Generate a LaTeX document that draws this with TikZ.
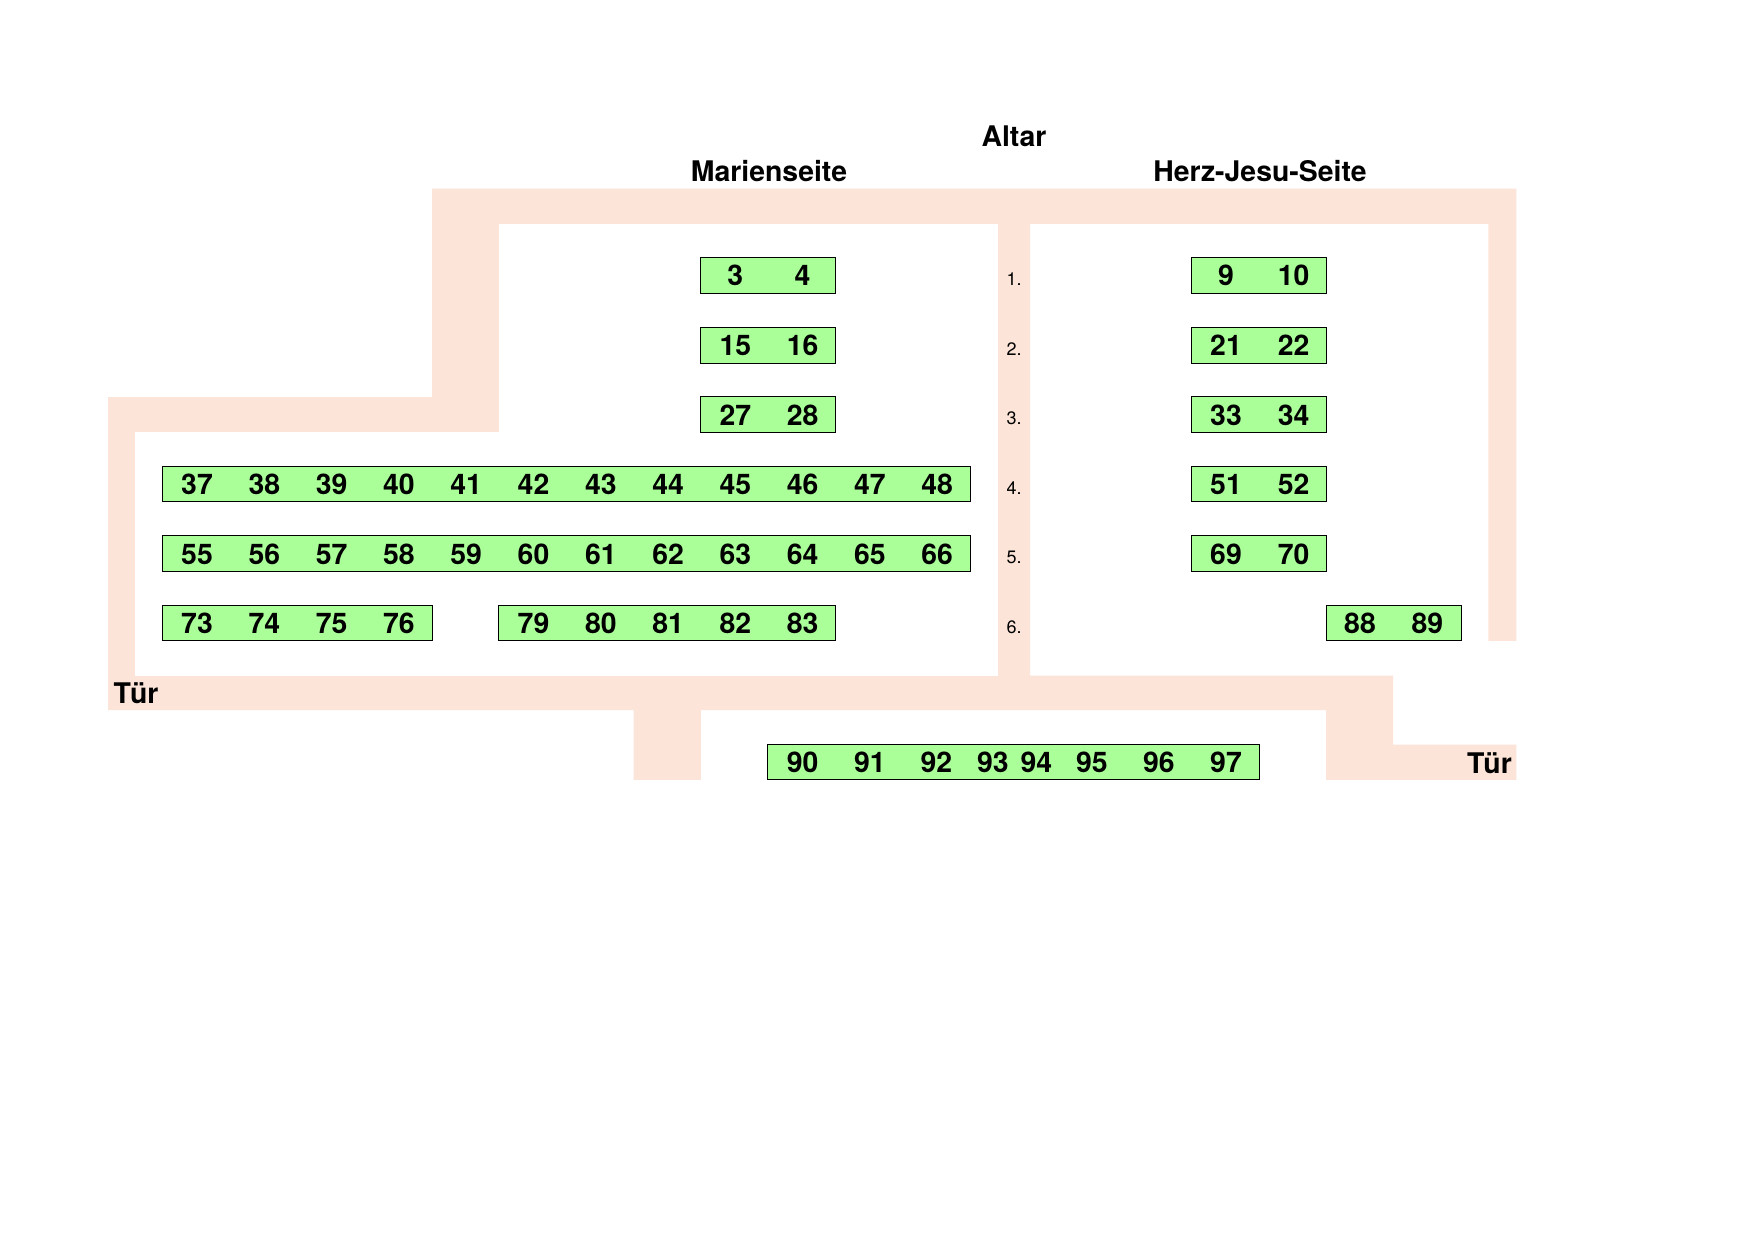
\documentclass[tikz,border=0pt]{standalone}
\usepackage{fontspec}
\setmainfont{TeX Gyre Heros}
\definecolor{wallpink}{RGB}{252,228,216}
\definecolor{pewgreen}{RGB}{170,255,153}
\tikzset{
  x=1pt,y=-1pt,
  wall/.style={fill=wallpink,draw=none},
  pew/.style={draw=black,fill=pewgreen,line width=1pt},
  seat/.style={anchor=base,inner sep=0pt,font=\fontsize{28.4}{28.4}\selectfont\bfseries},
  title/.style={anchor=base,inner sep=0pt,font=\fontsize{28.4}{28.4}\selectfont\bfseries},
  rowno/.style={anchor=base,inner sep=0pt,font=\fontsize{18}{18}\selectfont},
}
\begin{document}
\begin{tikzpicture}
\useasboundingbox (0,0) rectangle (1754,1240);
\fill[white] (0,0) rectangle (1754,1240);
\begin{scope}[shift={(0,0.5)}]
% walls
\path[wall] (432,188) -- (1516.3,188) -- (1516.3,640.3) -- (1488.3,640.3) -- (1488.3,223.3) -- (1030.2,223.3)
  -- (1030.2,675) -- (1393.2,675) -- (1393.2,744) -- (1516.3,744) -- (1516.3,779.3) -- (1326,779.3) -- (1326,709.7)
  -- (700.8,709.7) -- (700.8,779.3) -- (633.7,779.3) -- (633.7,709.7) -- (108,709.7) -- (108,396.7) -- (432,396.7) -- cycle;
\fill[white] (499.3,223.3) rectangle (997.8,431.7);
\fill[white] (135,431.7) rectangle (997.8,675);
% pews
\foreach \nm/\xa/\ya/\xb/\yb in {
  pa/700.6/257.3/835.6/293,
  pb/700.6/326.7/835.6/362.7,
  pc/700.6/396.3/835.6/432.3,
  pd/162.2/466/970.4/501.3,
  pe/162.2/535.3/970.4/570.7,
  pf/162.2/605/432/640.3,
  pg/498.6/605/835.6/640.3,
  ph/1191.3/257.3/1326.7/293,
  pi/1191.3/326.7/1326.7/362.7,
  pj/1191.3/396.3/1326.7/432.3,
  pk/1191.3/466/1326.7/501.3,
  pl/1191.3/535.3/1326.7/570.7,
  pm/1326.7/605/1461/640.3,
  pn/767.3/744/1259.5/779.3}
  \path[pew] (\xa,\ya) rectangle (\xb,\yb);
% seat numbers
\foreach \bl/\lst in {
  285/{735.3/3,802.6/4,1226/9,1293.7/10},
  355/{735.3/15,802.6/16,1226/21,1293.7/22},
  424.5/{735.3/27,802.6/28,1226/33,1293.7/34},
  494/{197/37,264.3/38,331.6/39,398.9/40,466.2/41,533.5/42,600.8/43,668.1/44,735.3/45,802.6/46,869.9/47,937.2/48,1226/51,1293.7/52},
  563.5/{197/55,264.3/56,331.6/57,398.9/58,466.2/59,533.5/60,600.8/61,668.1/62,735.3/63,802.6/64,869.9/65,937.2/66,1226/69,1293.7/70},
  633/{197/73,264.3/74,331.6/75,398.9/76,533.5/79,600.8/80,668.1/81,735.3/82,802.6/83,1360/88,1427.3/89},
  772/{802.6/90,869.9/91,936.3/92,992.8/93,1036.4/94,1091.8/95,1158.9/96,1226/97}}
  \foreach \sx/\sn in \lst
    \node[seat] (s\sn) at (\sx,\bl) {\sn};
% row numbers
\foreach \bl/\rn in {285/1,355/2,424.3/3,493.8/4,563.3/5,633.3/6}
  \node[rowno] (r\rn) at (1014,\bl) {\rn.};
% titles
\node[title] (altar) at (1014,146.2) {Altar};
\node[title] (maria) at (769,181.2) {Marienseite};
\node[title] (herz) at (1260,181.2) {Herz-Jesu-Seite};
\node[title] (turl) at (136,702.5) {Tür};
\node[title] (turr) at (1489.4,772.5) {Tür};
\end{scope}
\end{tikzpicture}
\end{document}
